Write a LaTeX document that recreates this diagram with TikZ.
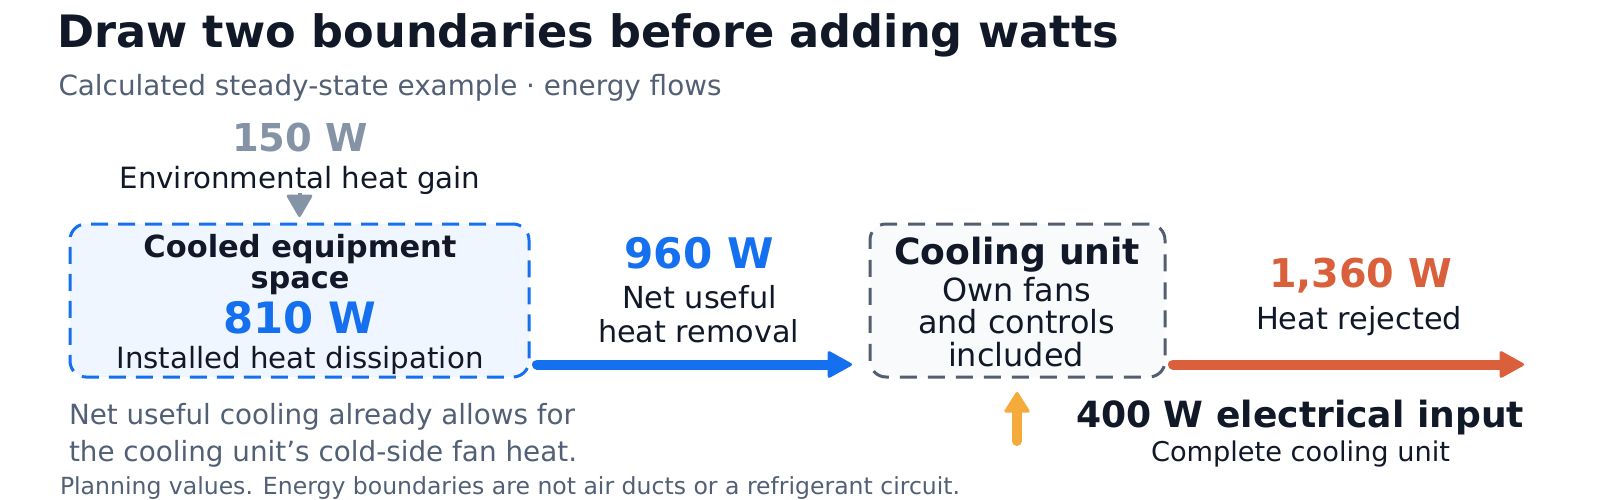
\documentclass[tikz,border=0pt]{standalone}
\usepackage{fontspec}
\usepackage{graphicx}
\setmainfont{DejaVu Sans}
\usetikzlibrary{arrows.meta,calc}
\definecolor{ink}{RGB}{17,24,39}
\definecolor{slate}{RGB}{82,96,117}
\definecolor{mist}{RGB}{133,147,166}
\definecolor{flowblue}{RGB}{21,112,239}
\definecolor{bluefill}{RGB}{240,246,255}
\definecolor{grayfill}{RGB}{248,250,252}
\definecolor{grayline}{RGB}{83,95,112}
\definecolor{hot}{RGB}{217,96,58}
\definecolor{power}{RGB}{244,171,59}
\newcommand{\fitw}[2]{\resizebox{#1pt}{!}{#2}}
\begin{document}
\begin{tikzpicture}[x=1pt,y=-1pt,
  every node/.style={inner sep=0pt,outer sep=0pt},
  tc/.style={anchor=base,font=\fontsize{30}{30}\selectfont},
  tb/.style={anchor=base,font=\fontsize{30}{30}\selectfont\bfseries},
  tl/.style={anchor=base west,font=\fontsize{30}{30}\selectfont},
  tbl/.style={anchor=base west,font=\fontsize{30}{30}\selectfont\bfseries},
  boundary/.style={draw,line width=3pt,rounded corners=16pt},
  flow/.style={line width=10pt,line cap=round,-{Triangle[length=26pt,width=28pt,line width=3pt,round]}}]
\fill[white] (0,0) rectangle (1600,500);
\useasboundingbox (0,0) rectangle (1600,500);
% title
\node[tbl,text=ink] (title) at (57,48) {\fitw{1062}{Draw two boundaries before adding watts}};
\node[tl,text=slate] (subtitle) at (58.5,96) {\fitw{663}{Calculated steady-state example · energy flows}};
% boxes
\node[boundary,draw=flowblue,fill=bluefill,dash pattern=on 17pt off 10pt,minimum width=459pt,minimum height=153pt] (space) at (299.5,300.5) {};
\node[boundary,draw=grayline,fill=grayfill,dash pattern=on 17pt off 11pt,minimum width=295pt,minimum height=153pt] (unit) at (1017.5,300.5) {};
% environmental gain
\node[tb,text=mist] (envval) at (300,152) {\fitw{136}{150 W}};
\node[tc,text=ink] (envlbl) at (300,188) {\fitw{361}{Environmental heat gain}};
% space box text
\node[tb,text=ink] (sp1) at (300,257) {\fitw{313}{Cooled equipment}};
\node[tb,text=ink] (sp2) at (300,288) {\fitw{99}{space}};
\node[tb,text=flowblue] (spval) at (300,333) {\fitw{153}{810 W}};
\node[tc,text=ink] (splbl) at (300,368) {\fitw{367}{Installed heat dissipation}};
% net useful
\node[tb,text=flowblue] (netval) at (699,268) {\fitw{149}{960 W}};
\node[tc,text=ink] (net1) at (699.5,308) {\fitw{155}{Net useful}};
\node[tc,text=ink] (net2) at (698.5,342) {\fitw{201}{heat removal}};
% unit box text
\node[tb,text=ink] (u1) at (1017,264) {\fitw{246}{Cooling unit}};
\node[tc,text=ink] (u2) at (1016.5,301) {\fitw{149}{Own fans}};
\node[tc,text=ink] (u3) at (1016.5,333) {\fitw{197}{and controls}};
\node[tc,text=ink] (u4) at (1016,366) {\fitw{136}{included}};
% rejected
\node[tb,text=hot] (rejval) at (1360.5,287) {\fitw{183}{1,360 W}};
\node[tc,text=ink] (rejlbl) at (1359,329) {\fitw{206}{Heat rejected}};
% electrical
\node[tb,text=ink] (elval) at (1300,427) {\fitw{448}{400 W electrical input}};
\node[tc,text=ink] (ellbl) at (1300.5,461) {\fitw{299}{Complete cooling unit}};
% notes
\node[tl,text=slate] (note1) at (69,424.5) {\fitw{506}{Net useful cooling already allows for}};
\node[tl,text=slate] (note2) at (69,461) {\fitw{508}{the cooling unit’s cold-side fan heat.}};
\node[tl,text=slate] (plan) at (60,494) {\fitw{900}{Planning values. Energy boundaries are not air ducts or a refrigerant circuit.}};
% connectors
\coordinate (envtop) at (299.5,193);
\draw[mist,line width=4pt,-{Triangle[length=24pt,width=27pt,line width=3pt,round]}] (envtop) -- ($(space.north)+(0,-7)$);
\draw[flow,draw=flowblue] ($(space.south east)+(8,-12.5)$) -- ($(unit.south west)+(-18,-12.5)$);
\coordinate (rejend) at (1524,364.5);
\draw[flow,draw=hot] ($(unit.south east)+(8,-12.5)$) -- (rejend);
\coordinate (elstart) at (1017,441);
\draw[flow,draw=power,-{Triangle[length=22pt,width=27pt,line width=3pt,round]}] (elstart) -- ($(unit.south)+(-0.5,15)$);
\end{tikzpicture}
\end{document}
